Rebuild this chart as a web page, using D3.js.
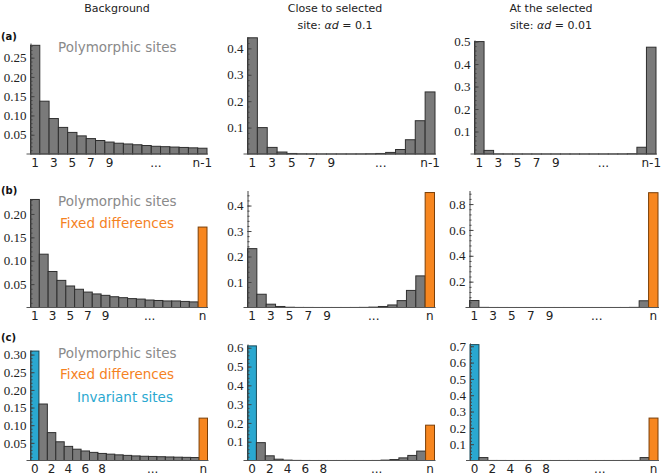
<!DOCTYPE html>
<html>
<head>
<meta charset="utf-8">
<script src="https://cdn.jsdelivr.net/npm/d3@7"></script>
<style>
  body { margin: 0; background: #fff; }
  text { font-family: "DejaVu Sans", sans-serif; }
</style>
</head>
<body>
<div id="chart"></div>
<script>
// categories (allele counts) for each row
var catsA = [1, 2, 3, 4, 5, 6, 7, 8, 9, 10, 11, 12, 13, 14, 15, 16, 17, 18, 19]
var catsB = [1, 2, 3, 4, 5, 6, 7, 8, 9, 10, 11, 12, 13, 14, 15, 16, 17, 18, 19, 20]
var catsC = [0, 1, 2, 3, 4, 5, 6, 7, 8, 9, 10, 11, 12, 13, 14, 15, 16, 17, 18, 19, 20]

// x tick labels
var tickPosA = [1, 3, 5, 7, 9, 14, 19]
var tickTextA = ["1", "3", "5", "7", "9", "...", "n-1"]
var tickPosB = [1, 3, 5, 7, 9, 14, 20]
var tickTextB = ["1", "3", "5", "7", "9", "...", "n"]
var tickPosC = [0, 2, 4, 6, 8, 14, 20]
var tickTextC = ["0", "2", "4", "6", "8", "...", "n"]

// row (a): polymorphic sites only
var bgPolyA = [0.282, 0.137, 0.092, 0.069, 0.056, 0.047, 0.040, 0.035, 0.031, 0.028, 0.026, 0.024, 0.022, 0.020, 0.019, 0.018, 0.017, 0.016, 0.015]
var nearPolyA = [0.44, 0.10, 0.025, 0.0075, 0.002, 0.0006, 0.0003, 0.0002, 0.0002, 0.0002, 0.0002, 0.0003, 0.0007, 0.002, 0.006, 0.017, 0.054, 0.126, 0.235]
var atPolyA = [0.50, 0.016, 0.0004, 0.0002, 0.0001, 0.0001, 0.0001, 0.0001, 0.0001, 0.0001, 0.0001, 0.0001, 0.0001, 0.0001, 0.0002, 0.0003, 0.001, 0.03, 0.475]

// row (b): polymorphic sites + fixed differences
var bgPolyB = [0.231, 0.114, 0.077, 0.058, 0.046, 0.039, 0.033, 0.029, 0.026, 0.023, 0.021, 0.019, 0.018, 0.016, 0.015, 0.014, 0.014, 0.013, 0.012]
var bgFixedB = 0.172
var nearPolyB = [0.231, 0.052, 0.013, 0.004, 0.001, 0.0003, 0.0002, 0.0001, 0.0001, 0.0001, 0.0001, 0.0002, 0.0005, 0.0015, 0.004, 0.010, 0.027, 0.067, 0.124]
var nearFixedB = 0.451
var atPolyB = [0.054, 0.001, 0.0003, 0.0002, 0.0001, 0.0001, 0.0001, 0.0001, 0.0001, 0.0001, 0.0001, 0.0001, 0.0001, 0.0001, 0.0001, 0.0002, 0.0003, 0.001, 0.052]
var atFixedB = 0.888

// row (c): invariant + polymorphic + fixed
var bgInvC = 0.31
var bgPolyC = [0.16, 0.079, 0.053, 0.040, 0.032, 0.027, 0.023, 0.020, 0.018, 0.016, 0.0145, 0.013, 0.012, 0.0115, 0.0107, 0.010, 0.0094, 0.0089, 0.0084]
var bgFixedC = 0.12
var nearInvC = 0.61
var nearPolyC = [0.095, 0.025, 0.007, 0.002, 0.0005, 0.0002, 0.0001, 0.0001, 0.0001, 0.0001, 0.0001, 0.0001, 0.0001, 0.0002, 0.002, 0.005, 0.014, 0.027, 0.05]
var nearFixedC = 0.188
var atInvC = 0.71
var atPolyC = [0.018, 0.0003, 0.0002, 0.0001, 0.0001, 0.0001, 0.0001, 0.0001, 0.0001, 0.0001, 0.0001, 0.0001, 0.0001, 0.0001, 0.0001, 0.0001, 0.0002, 0.0003, 0.018]
var atFixedC = 0.26

var colors = {
    poly: { fill: "#7a7a7a", stroke: "#2f2f2f", text: "#8a8a8a" },
    fixed: { fill: "#f7861f", stroke: "#7a3f08", text: "#f5821f" },
    inv: { fill: "#2aa8d0", stroke: "#174a5a", text: "#2aa8d0" }
}

var svg = d3.select("#chart")
    .append("svg")
    .attr("width", 663)
    .attr("height", 475)

// build bar records for a panel
const rowData = (cats, poly, fixed, inv) => {
    var out = []
    var i = 0
    cats.forEach(c => {
        if (inv !== undefined && c === cats[0]) {
            out.push({ cat: c, value: inv, kind: "inv" })
        } else if (fixed !== undefined && c === cats[cats.length - 1]) {
            out.push({ cat: c, value: fixed, kind: "fixed" })
        } else {
            out.push({ cat: c, value: poly[i], kind: "poly" })
            i++
        }
    })
    return out
}

// one panel per row/column, layout only
var panels = [
    { data: rowData(catsA, bgPolyA), cats: catsA, tp: tickPosA, tt: tickTextA, x0: 30.5, x1: 207, base: 154, top: 43, ymax: 0.288, step: 0.05, dec: 2 },
    { data: rowData(catsA, nearPolyA), cats: catsA, tp: tickPosA, tt: tickTextA, x0: 247.5, x1: 435, base: 154, top: 37, ymax: 0.443, step: 0.1, dec: 1 },
    { data: rowData(catsA, atPolyA), cats: catsA, tp: tickPosA, tt: tickTextA, x0: 474.5, x1: 656, base: 154, top: 40, ymax: 0.507, step: 0.1, dec: 1 },
    { data: rowData(catsB, bgPolyB, bgFixedB), cats: catsB, tp: tickPosB, tt: tickTextB, x0: 30.5, x1: 207, base: 307.5, top: 199, ymax: 0.232, step: 0.05, dec: 2 },
    { data: rowData(catsB, nearPolyB, nearFixedB), cats: catsB, tp: tickPosB, tt: tickTextB, x0: 247.5, x1: 434.5, base: 307.5, top: 190.5, ymax: 0.459, step: 0.1, dec: 1 },
    { data: rowData(catsB, atPolyB, atFixedB), cats: catsB, tp: tickPosB, tt: tickTextB, x0: 469.5, x1: 658, base: 307.5, top: 190.5, ymax: 0.905, step: 0.2, dec: 1 },
    { data: rowData(catsC, bgPolyC, bgFixedC, bgInvC), cats: catsC, tp: tickPosC, tt: tickTextC, x0: 30.5, x1: 207.5, base: 460.5, top: 350, ymax: 0.313, step: 0.05, dec: 2 },
    { data: rowData(catsC, nearPolyC, nearFixedC, nearInvC), cats: catsC, tp: tickPosC, tt: tickTextC, x0: 247.5, x1: 434.5, base: 460.5, top: 344, ymax: 0.62, step: 0.1, dec: 1 },
    { data: rowData(catsC, atPolyC, atFixedC, atInvC), cats: catsC, tp: tickPosC, tt: tickTextC, x0: 470, x1: 658, base: 460.5, top: 343, ymax: 0.72, step: 0.1, dec: 1 }
]

panels.forEach(p => {
    var g = svg.append("g")

    var x = d3.scaleBand()
        .domain(p.cats)
        .range([p.x0, p.x1])
        .padding(0)
    var y = d3.scaleLinear()
        .domain([0, p.ymax])
        .range([p.base, p.top])

    // bars
    g.selectAll("rect")
        .data(p.data)
        .enter()
        .append("rect")
        .attr("x", d => x(d.cat))
        .attr("y", d => y(d.value))
        .attr("width", x.bandwidth())
        .attr("height", d => p.base - y(d.value))
        .attr("fill", d => colors[d.kind].fill)
        .attr("stroke", d => colors[d.kind].stroke)
        .attr("stroke-width", 1)

    // x axis: labels only, baseline drawn a bit past the y axis
    var xAxis = g.append("g")
        .attr("transform", "translate(0," + p.base + ")")
        .call(d3.axisBottom(x).tickValues(p.tp)
            .tickFormat((d, i) => p.tt[i]).tickSize(0).tickPadding(4))
    xAxis.select(".domain").remove()
    xAxis.selectAll("text")
        .style("font-family", "DejaVu Sans, sans-serif")
        .style("font-size", "12px")
        .attr("fill", "#222")
    g.append("line")
        .attr("x1", p.x0 - 4).attr("x2", p.x1 + 1)
        .attr("y1", p.base).attr("y2", p.base)
        .attr("stroke", "#555").attr("stroke-width", 1)

    // y axis: minor ticks pointing inward, then major ticks with labels
    var majors = d3.range(p.step, p.ymax + 1e-9, p.step).map(v => +v.toFixed(4))
    var minors = d3.range(p.step / 5, p.ymax, p.step / 5).map(v => +v.toFixed(4))
    g.append("g")
        .attr("transform", "translate(" + p.x0 + ",0)")
        .call(d3.axisLeft(y).tickValues(minors).tickSize(-2).tickFormat(""))
        .call(a => a.select(".domain").remove())
        .selectAll("line").attr("stroke", "#444")
    var yAxis = g.append("g")
        .attr("transform", "translate(" + p.x0 + ",0)")
        .call(d3.axisLeft(y).tickValues(majors).tickSize(-4).tickSizeOuter(0)
            .tickPadding(4).tickFormat(d3.format("." + p.dec + "f")))
    yAxis.select(".domain").attr("stroke", "#444")
    yAxis.selectAll("line").attr("stroke", "#444")
    yAxis.selectAll("text")
        .style("font-family", "'Liberation Serif', serif")
        .style("font-size", "13px")
        .attr("fill", "#222")
})

// column headers
var headers = [
    { x: 117, lines: ["Background"] },
    { x: 335, lines: ["Close to selected", "site: "] },
    { x: 551, lines: ["At the selected", "site: "] }
]
var alphaVals = ["", " = 0.1", " = 0.01"]
headers.forEach((h, i) => {
    h.lines.forEach((l, j) => {
        var t = svg.append("text")
            .attr("x", h.x)
            .attr("y", 12 + j * 17)
            .attr("text-anchor", "middle")
            .attr("font-size", 11)
            .attr("fill", "#222")
            .text(l)
        if (j === 1) {
            t.append("tspan").attr("font-style", "italic").text("αd")
            t.append("tspan").text(alphaVals[i])
        }
    })
})

// row letters
var rowLetters = ["(a)", "(b)", "(c)"]
var rowLetterY = [40, 194, 341]
rowLetters.forEach((l, i) => {
    svg.append("text")
        .attr("x", 1)
        .attr("y", rowLetterY[i])
        .attr("font-size", 10)
        .attr("font-weight", "bold")
        .attr("fill", "#111")
        .text(l)
})

// legend labels in the left column
var legendTexts = ["Polymorphic sites", "Polymorphic sites", "Fixed differences", "Polymorphic sites", "Fixed differences", "Invariant sites"]
var legendKinds = ["poly", "poly", "fixed", "poly", "fixed", "inv"]
var legendX = [58, 58, 60, 58, 60, 77]
var legendY = [52, 206, 228, 358, 379, 402]
legendTexts.forEach((l, i) => {
    svg.append("text")
        .attr("x", legendX[i])
        .attr("y", legendY[i])
        .attr("font-size", 13.5)
        .attr("fill", colors[legendKinds[i]].text)
        .text(l)
})
</script>
</body>
</html>
